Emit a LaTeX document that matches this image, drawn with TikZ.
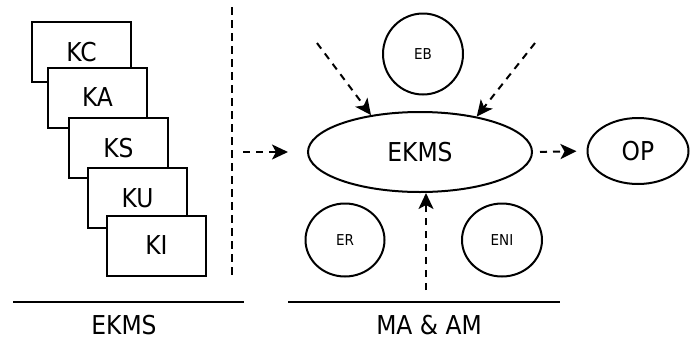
\documentclass[tikz,border=0pt]{standalone}
\usepackage{fontspec}
\setmainfont{DejaVu Sans Condensed}
\usetikzlibrary{shapes.geometric,arrows.meta}

\tikzset{
	kbox/.style={draw, fill=white, line width=2pt, minimum width=99pt, minimum height=60pt,
		inner sep=0pt, font=\fontsize{26}{26}\selectfont},
	agent/.style={draw, ellipse, line width=2pt, inner sep=0pt, font=\fontsize{15}{15}\selectfont},
	flow/.style={line width=2pt, dash pattern=on 7pt off 6pt, -{Stealth[length=16pt,width=15pt,inset=4pt]}},
	biglabel/.style={font=\fontsize{26}{26}\selectfont}
}

\begin{document}
\begin{tikzpicture}[x=1pt, y=-1pt]

		\useasboundingbox (0,0) rectangle (694,341);

		% knowledge boxes

		\node[kbox] (kc) at (81.5,52)   {KC};
		\node[kbox] (ka) at (97.5,97.5) {KA};
		\node[kbox] (ks) at (118.5,148) {KS};
		\node[kbox] (ku) at (137.5,198) {KU};
		\node[kbox] (ki) at (156.5,245.5) {KI};

		% separators

		\coordinate (sepT) at (232,7);
		\coordinate (sepB) at (232,276);
		\draw[line width=2pt, dash pattern=on 8pt off 5pt] (sepT) -- (sepB);

		\coordinate (baseLa) at (13,302);
		\coordinate (baseLb) at (244,302);
		\draw[line width=2pt] (baseLa) -- (baseLb);

		\coordinate (baseRa) at (288,302);
		\coordinate (baseRb) at (560,302);
		\draw[line width=2pt] (baseRa) -- (baseRb);

		\node[biglabel, inner sep=0pt, anchor=base] (capL) at (124,334) {EKMS};
		\node[biglabel, inner sep=0pt, anchor=base] (capR) at (429,334) {MA \& AM};

		% agents

		\node[draw, ellipse, line width=2pt, minimum width=224pt, minimum height=80pt,
			inner sep=0pt, biglabel] (ekms) at (420,152) {EKMS};
		\node[agent, minimum width=80pt, minimum height=81pt] (eb) at (423,54) {EB};
		\node[agent, minimum width=79pt, minimum height=73pt] (er) at (345,240) {ER};
		\node[agent, minimum width=80pt, minimum height=73pt] (eni) at (502,240) {ENI};
		\node[draw, ellipse, line width=2pt, minimum width=101pt, minimum height=66pt,
			inner sep=0pt, biglabel] (op) at (638,151) {OP};

		% flows

		\coordinate (inL) at (243,152);
		\coordinate (inLend) at (288,152);
		\draw[flow] (inL) -- (inLend);

		\coordinate (tl) at (317,43);
		\coordinate (tr) at (535,43);
		\coordinate (up) at (426,290);

		\draw[flow] (tl) -- (ekms.143);
		\draw[flow] (tr) -- (ekms.32);
		\draw[flow] (up) -- (up |- ekms.south);
		\draw[flow, shorten <=7pt, shorten >=10pt] (ekms.east) -- (op.west);

	\end{tikzpicture}
\end{document}
